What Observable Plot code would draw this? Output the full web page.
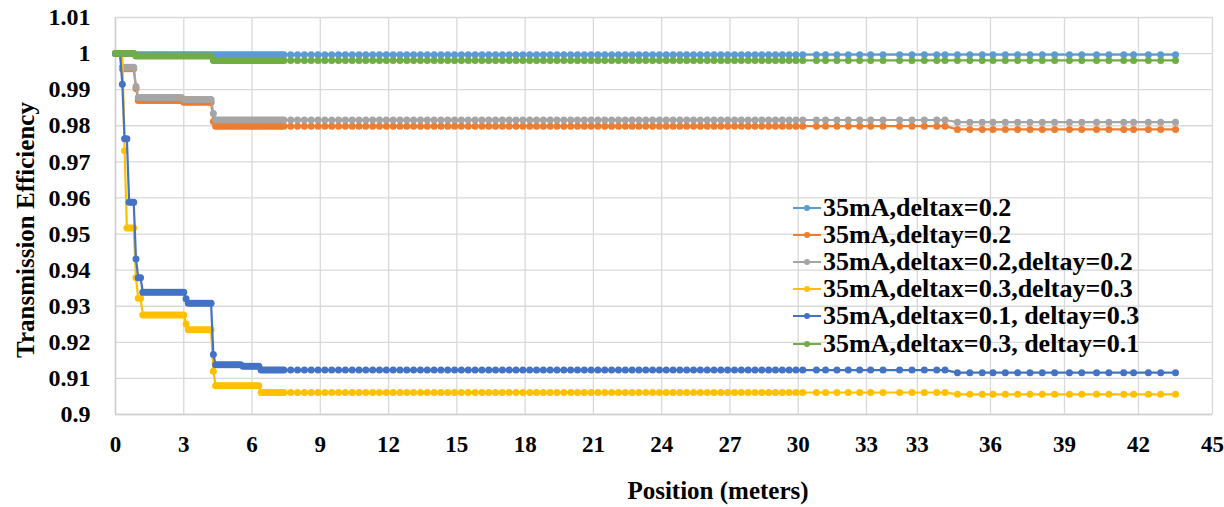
<!DOCTYPE html>
<html>
<head>
<meta charset="utf-8">
<script src="https://cdn.jsdelivr.net/npm/d3@7"></script>
<script src="https://cdn.jsdelivr.net/npm/@observablehq/plot@0.6"></script>
<style>
  body { margin: 0; background: #fff; }
  #wrap { position: relative; width: 1224px; height: 507px; font-family: "Liberation Serif", "Times New Roman", serif; }
  #legend { position: absolute; left: 793px; top: 194px; }
  .row { display: flex; align-items: center; height: 27.2px; font-weight: bold; font-size: 26px; white-space: nowrap; color: #000; }
  .row svg { margin-right: 2px; flex: none; }
</style>
</head>
<body>
<div id="wrap"><div id="chart"></div><div id="legend"></div></div>
<script>
// ---- Data ----
const seriesNames = [
  "35mA,deltax=0.2",
  "35mA,deltay=0.2",
  "35mA,deltax=0.2,deltay=0.2",
  "35mA,deltax=0.3,deltay=0.3",
  "35mA,deltax=0.1, deltay=0.3",
  "35mA,deltax=0.3, deltay=0.1"
];
const seriesColors = ["#5B9BD5", "#ED7D31", "#A5A5A5", "#FFC000", "#4472C4", "#70AD47"];

// sample positions (meters) of the plotted points
const positions = [
  0,0.1,0.2,0.3,0.4,0.5,0.6,0.7,0.8,0.9,1.0,1.1,1.2,1.3,1.4,1.5,1.6,1.7,1.8,1.9,
  2.0,2.1,2.2,2.3,2.4,2.5,2.6,2.7,2.8,2.9,3.0,3.1,3.2,3.3,3.4,3.5,3.6,3.7,3.8,3.9,
  4.0,4.1,4.2,4.3,4.4,4.5,4.6,4.7,4.8,4.9,5.0,5.1,5.2,5.3,5.4,5.5,5.6,5.7,5.8,5.9,
  6.0,6.1,6.2,6.3,6.4,6.5,6.6,6.7,6.8,6.9,7.0,7.1,7.2,7.3,7.4,
  7.7,8.0,8.3,8.6,8.9,9.2,9.5,9.8,10.1,10.4,10.7,11.0,11.3,11.6,11.9,12.2,12.5,12.8,
  13.1,13.4,13.7,14.0,14.3,14.6,14.9,15.2,15.5,15.8,16.1,16.4,16.7,17.0,17.3,17.6,
  17.9,18.2,18.5,18.8,19.1,19.4,19.7,20.0,20.3,20.6,20.9,21.2,21.5,21.8,22.1,22.4,
  22.7,23.0,23.3,23.6,23.9,24.2,24.5,24.8,25.1,25.4,25.7,26.0,26.3,26.6,26.9,27.2,
  27.5,27.8,28.1,28.4,28.7,29.0,29.3,29.6,29.9,30.2,
  30.8,31.2,31.7,32.2,32.7,33.1,33.4,33.8,34.1,34.4,34.7,34.9,35.2,35.5,35.8,36.1,
  36.6,37.1,37.6,38.1,38.6,39.2,39.7,40.3,40.8,41.4,41.8,42.4,42.9,43.5
];

// efficiency levels: [position where level starts, efficiency]
const stepsDx02     = [[0,1.0],[0.9,0.9997]];
const stepsDy02     = [[0,1.0],[0.3,0.9958],[0.9,0.9903],[1.0,0.9870],[3.0,0.9865],[4.3,0.9812],[4.4,0.9799],[35.1,0.9790]];
const stepsDx02Dy02 = [[0,1.0],[0.3,0.9962],[0.9,0.9909],[1.0,0.9878],[3.0,0.9873],[4.3,0.9834],[4.4,0.9816],[35.1,0.9810]];
const stepsDx03Dy03 = [[0,1.0],[0.4,0.9731],[0.5,0.9517],[0.9,0.9379],[1.0,0.9322],[1.2,0.9276],[3.1,0.9251],[3.2,0.9235],[4.3,0.9120],[4.4,0.9080],[6.4,0.9061],[35.1,0.9056]];
const stepsDx01Dy03 = [[0,1.0],[0.3,0.9915],[0.4,0.9764],[0.6,0.9588],[0.9,0.9431],[1.0,0.9379],[1.2,0.9339],[3.1,0.9321],[3.2,0.9308],[4.3,0.9166],[4.4,0.9138],[5.6,0.9134],[6.4,0.9123],[35.1,0.9116]];
const stepsDx03Dy01 = [[0,1.0],[0.9,0.9993],[4.3,0.9981]];
const seriesSteps = [stepsDx02, stepsDy02, stepsDx02Dy02, stepsDx03Dy03, stepsDx01Dy03, stepsDx03Dy01];

// axis ticks
const xTickValues = [0,3,6,9,12,15,18,21,24,27,30,33,34.23,36,39,42,45];
const xTickLabels = ["0","3","6","9","12","15","18","21","24","27","30","33","33","36","39","42","45"];
const yTickValues = [0.9,0.91,0.92,0.93,0.94,0.95,0.96,0.97,0.98,0.99,1,1.01];
const yTickLabels = ["0.9","0.91","0.92","0.93","0.94","0.95","0.96","0.97","0.98","0.99","1","1.01"];
const xTitle = "Position (meters)";
const yTitle = "Transmission Efficiency";

// ---- Build ----
function levelAt(steps, x) {
  let v = steps[0][1];
  for (const [x0, y] of steps) if (x >= x0 - 1e-9) v = y;
  return v;
}
const seriesRows = seriesSteps.map(steps => positions.map(x => ({x, y: levelAt(steps, x)})));

const dataMarks = [];
seriesRows.forEach((rows, i) => {
  dataMarks.push(Plot.line(rows, {x: "x", y: "y", stroke: seriesColors[i], strokeWidth: 2.2}));
  dataMarks.push(Plot.dot(rows, {x: "x", y: "y", r: 3.5, fill: seriesColors[i], stroke: "none"}));
});

const chart = Plot.plot({
  width: 1224,
  height: 507,
  marginLeft: 115,
  marginRight: 12,
  marginTop: 17,
  marginBottom: 93,
  style: {fontFamily: "Liberation Serif, Times New Roman, serif", fontWeight: "bold", background: "white", color: "#000"},
  x: {type: "linear", domain: [0, 33, 36, 45], range: [115, 866, 990, 1212]},
  y: {domain: [0.9, 1.01]},
  marks: [
    Plot.gridX(xTickValues, {stroke: "#d9d9d9", strokeOpacity: 1, strokeWidth: 1.3}),
    Plot.gridY(yTickValues, {stroke: "#d9d9d9", strokeOpacity: 1, strokeWidth: 1.3}),
    Plot.ruleX([0], {stroke: "#cfcfcf", strokeWidth: 1.5}),
    Plot.ruleY([0.9], {stroke: "#cfcfcf", strokeWidth: 1.5}),
    Plot.axisY(yTickValues, {tickSize: 0, tickPadding: 25, fontSize: 24, fontWeight: "bold", label: null,
      tickFormat: d => yTickLabels[yTickValues.indexOf(d)]}),
    Plot.axisX(xTickValues, {tickSize: 0, tickPadding: 21, fontSize: 23, fontWeight: "bold", label: null,
      tickFormat: d => xTickLabels[xTickValues.indexOf(d)]}),
    ...dataMarks,
    Plot.text([yTitle], {frameAnchor: "left", textAnchor: "middle", lineAnchor: "middle", rotate: -90, dx: -90, dy: 14, fontSize: 25, fontWeight: "bold", fill: "#000"}),
    Plot.text([xTitle], {frameAnchor: "bottom", textAnchor: "middle", lineAnchor: "middle", dx: 54, dy: 76, fontSize: 25, fontWeight: "bold", fill: "#000"})
  ]
});
document.getElementById("chart").appendChild(chart);

// legend
const legend = document.getElementById("legend");
seriesNames.forEach((name, i) => {
  const row = document.createElement("div");
  row.className = "row";
  row.innerHTML = `<svg width="28" height="10"><line x1="0" y1="5" x2="28" y2="5" stroke="${seriesColors[i]}" stroke-width="2"/><circle cx="14" cy="5" r="3" fill="${seriesColors[i]}"/></svg><span>${name}</span>`;
  legend.appendChild(row);
});
</script>
</body>
</html>
